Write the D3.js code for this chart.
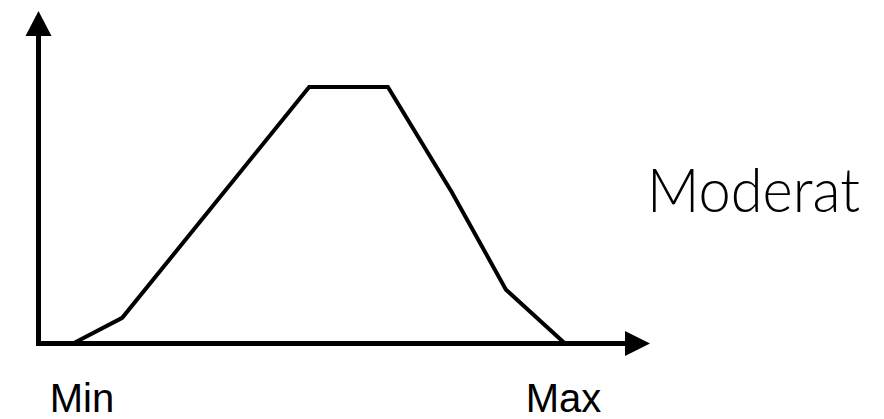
<!DOCTYPE html>
<html>
<head>
<meta charset="utf-8">
<script src="https://cdn.jsdelivr.net/npm/d3@7"></script>
<style>
  html, body { margin: 0; padding: 0; background: #fff; }
  svg { display: block; }
</style>
</head>
<body>
<svg id="chart"></svg>
<script>
// membership curve, x in % of range (Min..Max), y in % of full membership
const xValues = [0, 10, 48, 64, 77, 88, 100];
const yValues = [0, 10, 100, 100, 59, 21, 0];
const tickLabels = ["Min", "Max"];
const tickValues = [0, 100];
const curveLabel = "Moderat";

const width = 884, height = 419;
const svg = d3.select("#chart").attr("width", width).attr("height", height);

// scales - the axis origin sits a bit left of Min
const x = d3.scaleLinear().domain([0, 100]).range([73, 565]);
const y = d3.scaleLinear().domain([0, 100]).range([343.5, 87]);
const originX = 38.5;

const axisStroke = 5;
const curveStroke = 4;

// AXES with arrow heads
svg.append("line")
  .attr("x1", originX).attr("y1", y(0) + axisStroke / 2)
  .attr("x2", originX).attr("y2", 35)
  .attr("stroke", "#000").attr("stroke-width", axisStroke);
svg.append("path")
  .attr("d", `M${originX},11 L${originX + 13},36 L${originX - 13},36 Z`)
  .attr("fill", "#000");

svg.append("line")
  .attr("x1", originX - axisStroke / 2).attr("y1", y(0))
  .attr("x2", 626).attr("y2", y(0))
  .attr("stroke", "#000").attr("stroke-width", axisStroke);
svg.append("path")
  .attr("d", `M650,${y(0)} L625,${y(0) - 12.5} L625,${y(0) + 12.5} Z`)
  .attr("fill", "#000");

// CURVE
const pts = xValues.map((v, i) => [v, yValues[i]]);
const line = d3.line().x(d => x(d[0])).y(d => y(d[1]));
svg.append("path")
  .datum(pts)
  .attr("d", line)
  .attr("fill", "none")
  .attr("stroke", "#000")
  .attr("stroke-width", curveStroke)
  .attr("stroke-linejoin", "miter");

// TICK LABELS
const labelShift = [9, -1.5];
svg.selectAll(".tick-label")
  .data(tickLabels)
  .enter()
  .append("text")
  .attr("class", "tick-label")
  .attr("x", (d, i) => x(tickValues[i]) + labelShift[i])
  .attr("y", 412)
  .attr("text-anchor", "middle")
  .style("font-family", "'Liberation Sans', Arial, sans-serif")
  .style("font-size", "40px")
  .style("fill", "#000")
  .text(d => d);

// CURVE NAME
svg.append("text")
  .attr("x", 647)
  .attr("y", 212)
  .attr("textLength", 213)
  .attr("lengthAdjust", "spacingAndGlyphs")
  .style("font-family", "Lato, 'Open Sans', sans-serif")
  .style("font-weight", 300)
  .style("font-size", "61px")
  .style("fill", "#000")
  .text(curveLabel);
</script>
</body>
</html>
